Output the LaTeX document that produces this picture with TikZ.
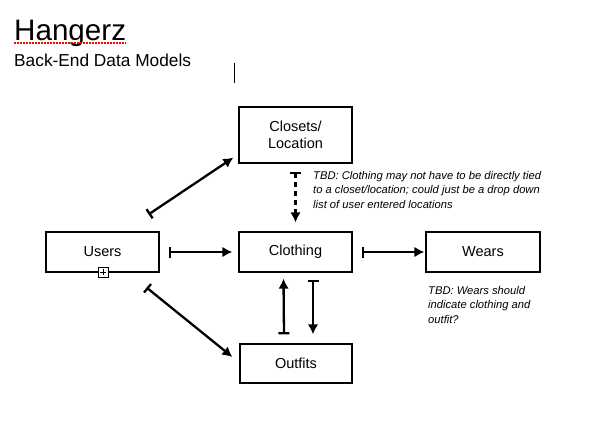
\documentclass[tikz,border=0pt]{standalone}
\usepackage{fontspec}
\setmainfont{Liberation Sans}
\usetikzlibrary{arrows.meta,calc}
\begin{document}
\begin{tikzpicture}[x=1pt,y=-1pt,
  box/.style={draw,line width=1.2pt,rectangle,inner sep=0pt,align=center,
    font=\fontsize{14.5}{17}\selectfont},
  conn/.style={line width=2.3pt,{Bar[width=11pt,line width=2.3pt]}-{Latex[length=10pt,width=10.5pt]}},
  note/.style={inner sep=0pt,anchor=base west,align=left,
    font=\fontsize{11.2}{14.5}\selectfont\itshape}
]
\useasboundingbox (0,0) rectangle (613,434);
% titles
\node[inner sep=0pt,anchor=base west,font=\fontsize{29.6}{32}\selectfont] (title) at (14,40) {Hangerz};
\draw[red,line width=1.2pt,dash pattern=on 1.5pt off 1.5pt] ([yshift=-3pt]title.base west) -- ([yshift=-3pt]title.base east);
\node[inner sep=0pt,anchor=base west,font=\fontsize{17.3}{20}\selectfont] (sub) at (14,66) {Back-End Data Models};
\coordinate (cur1) at (234,63);
\coordinate (cur2) at (234,83);
\draw[line width=1pt] (cur1) -- (cur2);
% boxes
\node[box,minimum width=113pt,minimum height=56pt] (closets) at (295.5,135) {Closets/\\Location};
\node[box,minimum width=113pt,minimum height=40pt] (users) at (102.5,252) {Users};
\node[box,minimum width=113pt,minimum height=40pt] (clothing) at (295.5,252) {Clothing};
\node[box,minimum width=114pt,minimum height=40pt] (wears) at (483,252) {Wears};
\node[box,minimum width=112pt,minimum height=39pt] (outfits) at (296,363.5) {Outfits};
% plus marker
\node[draw,fill=white,line width=0.8pt,minimum size=10pt,inner sep=0pt] (plus) at (103,272) {};
\draw[line width=0.8pt] ($(plus.center)+(-3,0)$) -- ($(plus.center)+(3,0)$);
\draw[line width=0.8pt] ($(plus.center)+(0,-3)$) -- ($(plus.center)+(0,3)$);
% connectors
\draw[conn] ([xshift=9pt]users.east) -- ([xshift=-6pt]clothing.west);
\draw[conn] ([xshift=9pt]clothing.east) -- ([xshift=-1pt]wears.west);
\draw[conn] ($(users.north east)+(-11,-17)$) -- ($(closets.south west)+(-5,-6)$);
\draw[conn] ($(users.south east)+(-13,15)$) -- ($(outfits.west)+(-7,-6.5)$);
\draw[conn,dash pattern=on 5pt off 4pt] ($(closets.south)+(0,8)$) -- ($(clothing.north)+(0,-9)$);
\draw[conn] ($(outfits.north)+(-12,-9)$) -- ($(clothing.south)+(-12,6)$);
\draw[conn] ($(clothing.south)+(17.5,7)$) -- ($(outfits.north)+(17,-9)$);
% notes (base anchor = last line's baseline)
\node[note] (note1) at (313,208) {TBD: Clothing may not have to be directly tied\\to a closet/location; could just be a drop down\\list of user entered locations};
\node[note] (note2) at (428,323) {TBD: Wears should\\indicate clothing and\\outfit?};
\end{tikzpicture}
\end{document}
